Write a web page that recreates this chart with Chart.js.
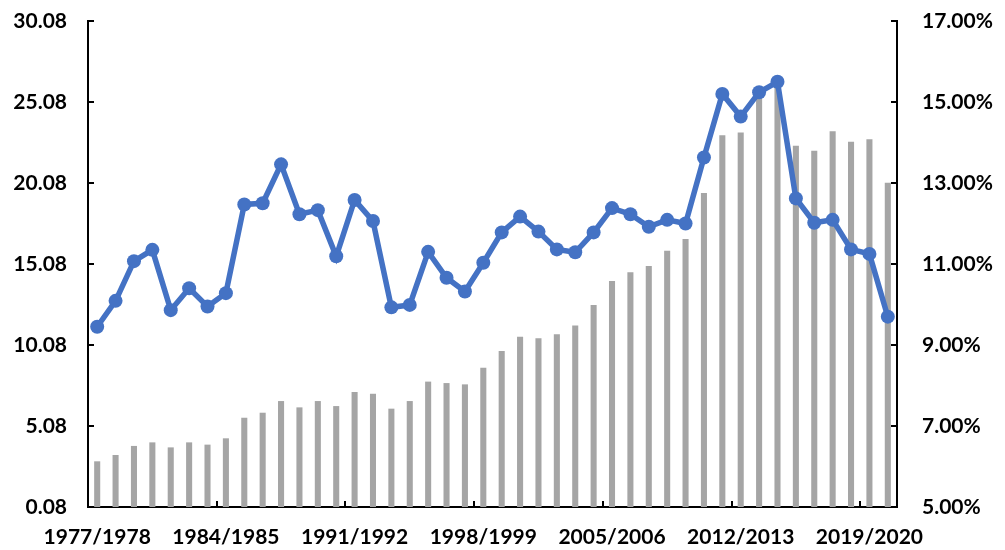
<!DOCTYPE html>
<html>
<head>
<meta charset="utf-8">
<script src="https://cdn.jsdelivr.net/npm/chart.js@4/dist/chart.umd.min.js"></script>
<style>
  html, body { margin: 0; padding: 0; background: #ffffff; }
  #wrap { width: 1005px; height: 550px; }
</style>
</head>
<body>
<div id="wrap"><canvas id="c" width="1005" height="550"></canvas></div>
<script>
const categories = [
  "1977/1978","1978/1979","1979/1980","1980/1981","1981/1982","1982/1983","1983/1984",
  "1984/1985","1985/1986","1986/1987","1987/1988","1988/1989","1989/1990","1990/1991",
  "1991/1992","1992/1993","1993/1994","1994/1995","1995/1996","1996/1997","1997/1998",
  "1998/1999","1999/2000","2000/2001","2001/2002","2002/2003","2003/2004","2004/2005",
  "2005/2006","2006/2007","2007/2008","2008/2009","2009/2010","2010/2011","2011/2012",
  "2012/2013","2013/2014","2014/2015","2015/2016","2016/2017","2017/2018","2018/2019",
  "2019/2020","2020/2021"
];
const barValues = [
  2.90, 3.29, 3.85, 4.07, 3.76, 4.07, 3.93,
  4.32, 5.59, 5.90, 6.62, 6.23, 6.62, 6.31,
  7.18, 7.07, 6.15, 6.62, 7.82, 7.73, 7.65,
  8.68, 9.71, 10.59, 10.49, 10.74, 11.29, 12.55,
  14.03, 14.57, 14.96, 15.90, 16.62, 19.46, 23.02,
  23.19, 25.6, 26.1, 22.38, 22.07, 23.27, 22.63,
  22.78, 20.10
];
const lineValues = [
  9.45, 10.09, 11.07, 11.35, 9.86, 10.40, 9.95,
  10.28, 12.47, 12.50, 13.46, 12.23, 12.33, 11.19,
  12.58, 12.06, 9.93, 9.99, 11.30, 10.66, 10.32,
  11.03, 11.78, 12.17, 11.80, 11.36, 11.29, 11.78,
  12.38, 12.23, 11.92, 12.09, 12.00, 13.63, 15.20,
  14.64, 15.24, 15.50, 12.62, 12.02, 12.09, 11.36,
  11.25, 9.70
];
const leftTicks = [0.08, 5.08, 10.08, 15.08, 20.08, 25.08, 30.08];
const rightTicks = [5, 7, 9, 11, 13, 15, 17];
const labelEvery = 7;

const FONT = { family: "Lato, 'Liberation Sans', sans-serif", size: 21, weight: 'bold' };

const insideTicks = {
  id: 'insideTicks',
  afterDatasetsDraw(chart) {
    const ctx = chart.ctx;
    const x = chart.scales.x, yl = chart.scales.y, yr = chart.scales.y1;
    const len = 6;
    ctx.save();
    ctx.strokeStyle = '#000';
    ctx.lineWidth = 2;
    ctx.beginPath();
    yl.ticks.forEach(t => {
      const py = Math.round(yl.getPixelForValue(t.value));
      ctx.moveTo(yl.right, py); ctx.lineTo(yl.right + len, py);
    });
    yr.ticks.forEach(t => {
      const py = Math.round(yr.getPixelForValue(t.value));
      ctx.moveTo(yr.left, py); ctx.lineTo(yr.left - len, py);
    });
    for (let i = labelEvery; i < categories.length; i += labelEvery) {
      const px = Math.round((x.getPixelForValue(i - 1) + x.getPixelForValue(i)) / 2);
      ctx.moveTo(px, x.top); ctx.lineTo(px, x.top - len);
    }
    ctx.stroke();
    ctx.restore();
  }
};

new Chart(document.getElementById('c'), {
  data: {
    labels: categories,
    datasets: [
      {
        type: 'line',
        data: lineValues,
        yAxisID: 'y1',
        borderColor: '#4472C4',
        backgroundColor: '#4472C4',
        borderWidth: 5.5,
        pointRadius: 7,
        pointBorderWidth: 0,
        pointBackgroundColor: '#4472C4',
        tension: 0,
        order: 0
      },
      {
        type: 'bar',
        data: barValues,
        yAxisID: 'y',
        backgroundColor: '#A5A5A5',
        barPercentage: 0.66,
        categoryPercentage: 0.5,
        order: 1
      }
    ]
  },
  options: {
    responsive: false,
    animation: false,
    devicePixelRatio: 1,
    layout: { padding: { top: 21, left: 0, right: 0, bottom: 0 } },
    plugins: { legend: { display: false }, tooltip: { enabled: false } },
    scales: {
      x: {
        offset: true,
        grid: { display: true, drawOnChartArea: false, drawTicks: true, tickLength: 18, color: 'rgba(0,0,0,0)' },
        border: { display: true, color: '#000', width: 2 },
        ticks: {
          autoSkip: false, maxRotation: 0, minRotation: 0,
          padding: 0, color: '#000', font: FONT,
          callback: (v, i) => (i % labelEvery === 0 ? categories[i] : '')
        },
        afterFit: s => { s.height = 43; }
      },
      y: {
        position: 'left',
        min: leftTicks[0], max: leftTicks[leftTicks.length - 1],
        afterBuildTicks: s => { s.ticks = leftTicks.map(v => ({ value: v })); },
        grid: { display: true, drawOnChartArea: false, drawTicks: true, tickLength: 21, color: 'rgba(0,0,0,0)' },
        border: { display: true, color: '#000', width: 2 },
        ticks: { padding: 0, color: '#000', font: FONT, callback: v => Number(v).toFixed(2) },
        afterFit: s => { s.width = 88; }
      },
      y1: {
        position: 'right',
        min: rightTicks[0], max: rightTicks[rightTicks.length - 1],
        afterBuildTicks: s => { s.ticks = rightTicks.map(v => ({ value: v })); },
        grid: { display: true, drawOnChartArea: false, drawTicks: true, tickLength: 25, color: 'rgba(0,0,0,0)' },
        border: { display: true, color: '#000', width: 2 },
        ticks: { padding: 0, color: '#000', font: FONT, callback: v => Number(v).toFixed(2) + '%' },
        afterFit: s => { s.width = 108; }
      }
    }
  },
  plugins: [insideTicks]
});
</script>
</body>
</html>
